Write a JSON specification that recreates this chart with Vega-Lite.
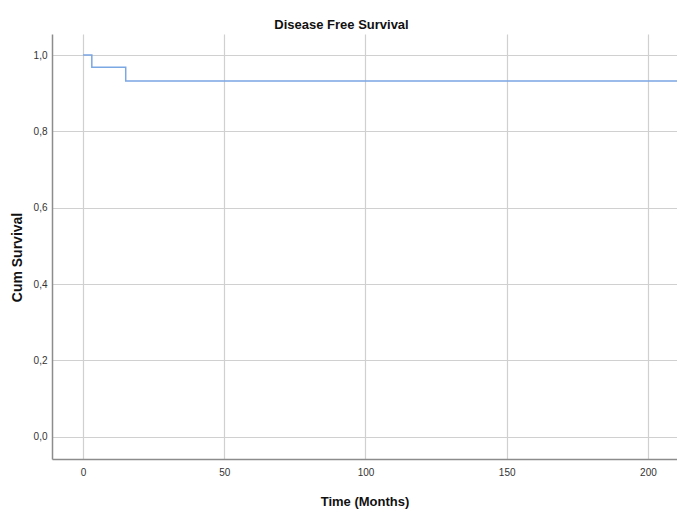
{
  "$schema": "https://vega.github.io/schema/vega-lite/v6.json",
  "autosize": "none",
  "width": 625,
  "height": 425,
  "padding": {"left": 52, "top": 34, "right": 0, "bottom": 54},
  "background": "white",
  "config": {
    "font": "Liberation Sans",
    "view": {"stroke": null},
    "axis": {"gridColor": "#d0d0d0", "gridWidth": 1.2, "domainColor": "#8c8c8c", "domainWidth": 1.5, "ticks": false, "labelFont": "Liberation Sans", "labelFontSize": 10, "labelColor": "#333333", "titleFont": "Liberation Sans", "titleColor": "#111111", "titleFontWeight": "bold"}
  },
  "title": {"text": "Disease Free Survival", "fontSize": 13, "fontWeight": "bold", "font": "Liberation Sans", "color": "#111111", "dx": -23, "offset": 2},
  "data": {"values": [
    {"time": 0, "surv": 1.0},
    {"time": 3.1, "surv": 1.0},
    {"time": 3.1, "surv": 0.968},
    {"time": 15.1, "surv": 0.968},
    {"time": 15.1, "surv": 0.932},
    {"time": 215, "surv": 0.932}
  ]},
  "mark": {"type": "line", "color": "#7ba7e3", "strokeWidth": 1.5, "clip": true, "interpolate": "linear"},
  "encoding": {
    "x": {"field": "time", "type": "quantitative", "scale": {"domain": [-11, 210.3], "nice": false, "zero": false}, "axis": {"values": [0, 50, 100, 150, 200], "labelPadding": 8, "title": "Time (Months)", "titleFontSize": 13, "titlePadding": 18}},
    "y": {"field": "surv", "type": "quantitative", "scale": {"domain": [-0.058, 1.055], "nice": false, "zero": false}, "axis": {"values": [0, 0.2, 0.4, 0.6, 0.8, 1.0], "labelExpr": "replace(format(datum.value, '.1f'), '.', ',')", "labelPadding": 5, "title": "Cum Survival", "titleFontSize": 14, "titlePadding": 9, "titleY": 223}},
    "order": {"field": "time", "type": "quantitative"}
  }
}
